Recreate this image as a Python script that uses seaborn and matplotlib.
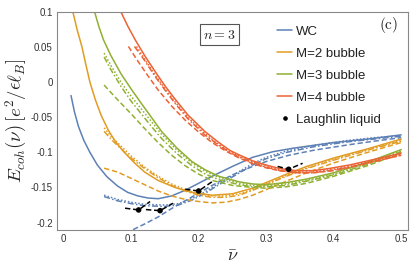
import matplotlib
matplotlib.use("Agg")
import matplotlib.pyplot as plt
from matplotlib.lines import Line2D
import seaborn as sns
import pandas as pd

# ---------------- data ----------------
# WC
wc_solid_x = [0.011, 0.016, 0.022, 0.03, 0.039, 0.05, 0.064, 0.08, 0.095, 0.11, 0.125, 0.14, 0.16, 0.18, 0.2, 0.22, 0.25, 0.28, 0.31, 0.34, 0.37, 0.4, 0.45, 0.5]
wc_solid_y = [-0.019, -0.042, -0.063, -0.083, -0.1, -0.118, -0.1345, -0.148, -0.157, -0.162, -0.165, -0.166, -0.162, -0.154, -0.144, -0.134, -0.12, -0.107, -0.099, -0.094, -0.09, -0.086, -0.081, -0.075]
wc_dot_x = [0.06, 0.08, 0.1, 0.12, 0.15, 0.17, 0.19, 0.21, 0.23, 0.25, 0.28, 0.3, 0.33, 0.37, 0.42, 0.46, 0.5]
wc_dot_y = [-0.161, -0.167, -0.171, -0.174, -0.175, -0.173, -0.166, -0.156, -0.144, -0.133, -0.116, -0.107, -0.098, -0.09, -0.083, -0.079, -0.076]
wc_dashdot_x = [0.06, 0.08, 0.1, 0.12, 0.15, 0.17, 0.19, 0.21, 0.23, 0.25, 0.28, 0.3, 0.33, 0.37, 0.42, 0.46, 0.5]
wc_dashdot_y = [-0.163, -0.169, -0.173, -0.176, -0.177, -0.175, -0.168, -0.158, -0.146, -0.135, -0.118, -0.109, -0.1, -0.092, -0.085, -0.081, -0.077]
wc_dash_x = [0.103, 0.12, 0.14, 0.16, 0.18, 0.2, 0.22, 0.25, 0.28, 0.3, 0.334, 0.37, 0.423, 0.46, 0.5]
wc_dash_y = [-0.21, -0.202, -0.192, -0.18, -0.169, -0.158, -0.147, -0.132, -0.12, -0.113, -0.104, -0.097, -0.089, -0.084, -0.079]

# M=2 bubble
m2_solid_x = [0.0138, 0.02, 0.027, 0.033, 0.039, 0.047, 0.056, 0.066, 0.077, 0.09, 0.105, 0.12, 0.14, 0.165, 0.19, 0.22, 0.25, 0.28, 0.3, 0.33, 0.36, 0.4, 0.45, 0.5]
m2_solid_y = [0.1, 0.075, 0.051, 0.025, 0.0, -0.025, -0.048, -0.068, -0.085, -0.1, -0.115, -0.128, -0.14, -0.15, -0.157, -0.161, -0.159, -0.151, -0.143, -0.131, -0.12, -0.108, -0.095, -0.081]
m2_dot_x = [0.06, 0.07, 0.084, 0.1, 0.12, 0.14, 0.16, 0.18, 0.2, 0.22, 0.24, 0.26, 0.28, 0.3, 0.33, 0.36, 0.4, 0.45, 0.5]
m2_dot_y = [-0.065, -0.077, -0.09, -0.105, -0.121, -0.134, -0.145, -0.153, -0.159, -0.162, -0.162, -0.159, -0.153, -0.145, -0.133, -0.122, -0.11, -0.096, -0.083]
m2_dashdot_x = [0.06, 0.07, 0.084, 0.1, 0.12, 0.14, 0.16, 0.18, 0.2, 0.22, 0.24, 0.26, 0.28, 0.3, 0.33, 0.36, 0.4, 0.45, 0.5]
m2_dashdot_y = [-0.07, -0.081, -0.094, -0.108, -0.123, -0.136, -0.147, -0.155, -0.161, -0.164, -0.164, -0.161, -0.154, -0.146, -0.134, -0.123, -0.111, -0.097, -0.084]
m2_dash_x = [0.06, 0.08, 0.1, 0.12, 0.14, 0.16, 0.18, 0.2, 0.22, 0.24, 0.26, 0.28, 0.3, 0.33, 0.36, 0.4, 0.45, 0.5]
m2_dash_y = [-0.1225, -0.128, -0.137, -0.146, -0.155, -0.162, -0.167, -0.17, -0.172, -0.171, -0.167, -0.161, -0.153, -0.141, -0.129, -0.115, -0.1, -0.086]

# M=3 bubble
m3_solid_x = [0.046, 0.052, 0.059, 0.07, 0.085, 0.101, 0.115, 0.13, 0.145, 0.167, 0.19, 0.21, 0.23, 0.26, 0.28, 0.3, 0.33, 0.36, 0.4, 0.45, 0.5]
m3_solid_y = [0.1, 0.08, 0.0605, 0.038, 0.012, -0.011, -0.03, -0.05, -0.07, -0.093, -0.113, -0.125, -0.134, -0.142, -0.145, -0.146, -0.143, -0.138, -0.129, -0.114, -0.096]
m3_dot_x = [0.06, 0.07, 0.085, 0.1, 0.115, 0.13, 0.145, 0.167, 0.19, 0.21, 0.23, 0.26, 0.28, 0.3, 0.33, 0.36, 0.4, 0.45, 0.5]
m3_dot_y = [0.0415, 0.024, 0.0, -0.02, -0.038, -0.056, -0.074, -0.096, -0.115, -0.127, -0.136, -0.144, -0.147, -0.148, -0.145, -0.14, -0.131, -0.116, -0.098]
m3_dashdot_x = [0.06, 0.07, 0.085, 0.1, 0.115, 0.13, 0.145, 0.167, 0.19, 0.21, 0.23, 0.26, 0.28, 0.3, 0.33, 0.36, 0.4, 0.45, 0.5]
m3_dashdot_y = [0.036, 0.018, -0.006, -0.027, -0.045, -0.063, -0.08, -0.101, -0.119, -0.131, -0.139, -0.146, -0.149, -0.149, -0.147, -0.141, -0.132, -0.117, -0.099]
m3_dash_x = [0.06, 0.08, 0.1, 0.12, 0.14, 0.16, 0.18, 0.2, 0.22, 0.25, 0.28, 0.3, 0.33, 0.36, 0.4, 0.45, 0.5]
m3_dash_y = [-0.004, -0.025, -0.045, -0.066, -0.086, -0.104, -0.119, -0.131, -0.14, -0.147, -0.15, -0.151, -0.149, -0.144, -0.134, -0.119, -0.101]

# M=4 bubble
m4_solid_x = [0.085, 0.095, 0.106, 0.12, 0.135, 0.15, 0.165, 0.184, 0.209, 0.23, 0.246, 0.261, 0.28, 0.3, 0.32, 0.344, 0.37, 0.393, 0.423, 0.46, 0.5]
m4_solid_y = [0.1, 0.08, 0.0605, 0.038, 0.016, -0.005, -0.024, -0.0465, -0.07, -0.086, -0.097, -0.104, -0.112, -0.118, -0.123, -0.126, -0.126, -0.123, -0.118, -0.11, -0.101]
m4_dot_x = [0.108, 0.12, 0.135, 0.15, 0.165, 0.184, 0.209, 0.23, 0.246, 0.261, 0.28, 0.3, 0.32, 0.344, 0.37, 0.393, 0.423, 0.46, 0.5]
m4_dot_y = [0.051, 0.033, 0.011, -0.009, -0.028, -0.05, -0.073, -0.089, -0.099, -0.106, -0.114, -0.12, -0.125, -0.128, -0.128, -0.125, -0.12, -0.112, -0.103]
m4_dashdot_x = [0.105, 0.12, 0.135, 0.15, 0.165, 0.184, 0.209, 0.23, 0.246, 0.261, 0.28, 0.3, 0.32, 0.344, 0.37, 0.393, 0.423, 0.46, 0.5]
m4_dashdot_y = [0.051, 0.031, 0.009, -0.011, -0.03, -0.052, -0.075, -0.09, -0.1, -0.107, -0.115, -0.121, -0.126, -0.129, -0.129, -0.126, -0.121, -0.113, -0.104]
m4_dash_x = [0.096, 0.11, 0.125, 0.14, 0.16, 0.18, 0.2, 0.22, 0.24, 0.26, 0.28, 0.3, 0.32, 0.344, 0.37, 0.4, 0.43, 0.46, 0.5]
m4_dash_y = [0.051, 0.03, 0.009, -0.011, -0.034, -0.054, -0.071, -0.086, -0.098, -0.108, -0.116, -0.122, -0.126, -0.129, -0.129, -0.126, -0.12, -0.113, -0.104]

# Laughlin liquid
laughlin_x = [1 / 9, 1 / 7, 1 / 5, 1 / 3]
laughlin_y = [-0.182, -0.183, -0.155, -0.124]
cusp_1_9_x = [0.091, 1 / 9, 0.128]
cusp_1_9_y = [-0.1795, -0.182, -0.170]
cusp_1_7_x = [0.122, 1 / 7, 0.162]
cusp_1_7_y = [-0.1815, -0.183, -0.1725]
cusp_1_5_x = [0.18, 1 / 5, 0.221]
cusp_1_5_y = [-0.1525, -0.155, -0.141]
cusp_1_3_x = [0.317, 1 / 3, 0.354]
cusp_1_3_y = [-0.120, -0.124, -0.1155]

series_labels = ["WC", "M=2 bubble", "M=3 bubble", "M=4 bubble", "Laughlin liquid"]
x_ticks = [0, 0.1, 0.2, 0.3, 0.4, 0.5]
x_tick_labels = ["0", "0.1", "0.2", "0.3", "0.4", "0.5"]
y_ticks = [0.1, 0.05, 0, -0.05, -0.1, -0.15, -0.2]
y_tick_labels = ["0.1", "0.05", "0", "-0.05", "-0.1", "-0.15", "-0.2"]

# ---------------- styling ----------------
sns.set_theme(style="white")
plt.rcParams["font.family"] = ["Liberation Sans", "DejaVu Sans"]
plt.rcParams["mathtext.fontset"] = "cm"
plt.rcParams["axes.unicode_minus"] = False

colors = {"WC": "#5E81B5", "M=2 bubble": "#E19C24", "M=3 bubble": "#8FB032", "M=4 bubble": "#EB6235"}
dotted = (0, (1.0, 1.3))
dashdot = (0, (4.0, 1.5, 1.0, 1.5))
dashed = (0, (3.5, 1.8))

curves = [
    ("WC", wc_solid_x, wc_solid_y, "-"),
    ("WC", wc_dot_x, wc_dot_y, dotted),
    ("WC", wc_dashdot_x, wc_dashdot_y, dashdot),
    ("WC", wc_dash_x, wc_dash_y, dashed),
    ("M=2 bubble", m2_solid_x, m2_solid_y, "-"),
    ("M=2 bubble", m2_dot_x, m2_dot_y, dotted),
    ("M=2 bubble", m2_dashdot_x, m2_dashdot_y, dashdot),
    ("M=2 bubble", m2_dash_x, m2_dash_y, dashed),
    ("M=3 bubble", m3_solid_x, m3_solid_y, "-"),
    ("M=3 bubble", m3_dot_x, m3_dot_y, dotted),
    ("M=3 bubble", m3_dashdot_x, m3_dashdot_y, dashdot),
    ("M=3 bubble", m3_dash_x, m3_dash_y, dashed),
    ("M=4 bubble", m4_solid_x, m4_solid_y, "-"),
    ("M=4 bubble", m4_dot_x, m4_dot_y, dotted),
    ("M=4 bubble", m4_dashdot_x, m4_dashdot_y, dashdot),
    ("M=4 bubble", m4_dash_x, m4_dash_y, dashed),
]

fig, ax = plt.subplots(figsize=(4.15, 2.68), dpi=100)
fig.subplots_adjust(left=0.137, right=0.983, top=0.955, bottom=0.142)

for name, xs, ys, ls in curves:
    df = pd.DataFrame({"x": xs, "y": ys})
    sns.lineplot(data=df, x="x", y="y", ax=ax, color=colors[name], linestyle=ls,
                 linewidth=1.1, sort=False, estimator=None, legend=False)

for cx, cy in [(cusp_1_9_x, cusp_1_9_y), (cusp_1_7_x, cusp_1_7_y),
               (cusp_1_5_x, cusp_1_5_y), (cusp_1_3_x, cusp_1_3_y)]:
    sns.lineplot(x=cx, y=cy, ax=ax, color="black", linestyle=(0, (3.5, 1.8)),
                 linewidth=1.1, sort=False, estimator=None, legend=False)

sns.scatterplot(x=laughlin_x, y=laughlin_y, ax=ax, color="black", s=16,
                edgecolor="none", zorder=5, legend=False)

ax.set_xlim(-0.01, 0.51)
ax.set_ylim(-0.2105, 0.1)
ax.set_xticks(x_ticks)
ax.set_xticklabels(x_tick_labels)
ax.set_yticks(y_ticks)
ax.set_yticklabels(y_tick_labels)
ax.tick_params(direction="in", length=3, width=0.6, color="#888888",
               labelsize=7, labelcolor="#333333", pad=3)
for sp in ax.spines.values():
    sp.set_color("#888888")
    sp.set_linewidth(0.8)

ax.set_xlabel(r"$\bar{\nu}$", fontsize=13, labelpad=3)
ax.set_ylabel(r"$E_{coh}(\nu)\,[e^2/\epsilon\ell_B]$", fontsize=13.5, labelpad=1)

ax.text(0.463, 0.895, r"$n=3$", transform=ax.transAxes, fontsize=10,
        ha="center", va="center",
        bbox=dict(boxstyle="square,pad=0.25", fc="white", ec="#555555", lw=0.8))
ax.text(0.945, 0.94, r"$\mathrm{(c)}$", transform=ax.transAxes, fontsize=11,
        ha="center", va="center")

handles = [Line2D([], [], color=colors[n], lw=1.1) for n in series_labels[:4]]
handles.append(Line2D([], [], color="black", marker="o", markersize=2.3, lw=0))
leg = ax.legend(handles, series_labels, loc="upper left",
                bbox_to_anchor=(0.627, 0.937), frameon=False, fontsize=9.5,
                handlelength=1.14, handletextpad=0.3, labelspacing=0.74,
                borderpad=0, borderaxespad=0)
for t in leg.get_texts():
    t.set_color("#222222")

fig.savefig("out.png", dpi=100)
